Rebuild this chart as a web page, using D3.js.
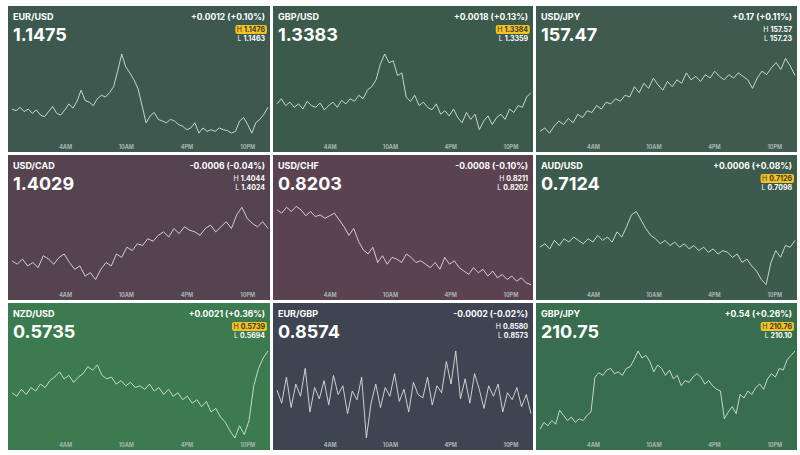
<!DOCTYPE html>
<html><head><meta charset="utf-8">
<script src="https://cdn.jsdelivr.net/npm/d3@7"></script>
<style>
body{margin:0;background:#fff;font-family:Inter,"Open Sans",sans-serif;}
</style></head>
<body><div id="container"></div>
<script>
// pair info
var pairs = ['EUR/USD','GBP/USD','USD/JPY','USD/CAD','USD/CHF','AUD/USD','NZD/USD','EUR/GBP','GBP/JPY'];
var prices = ['1.1475','1.3383','157.47','1.4029','0.8203','0.7124','0.5735','0.8574','210.75'];
var changes = ['+0.0012 (+0.10%)','+0.0018 (+0.13%)','+0.17 (+0.11%)','-0.0006 (-0.04%)','-0.0008 (-0.10%)','+0.0006 (+0.08%)','+0.0021 (+0.36%)','-0.0002 (-0.02%)','+0.54 (+0.26%)'];
var highs = ['1.1476','1.3384','157.57','1.4044','0.8211','0.7126','0.5739','0.8580','210.76'];
var lows = ['1.1463','1.3359','157.23','1.4024','0.8202','0.7098','0.5694','0.8573','210.10'];
var highFlag = [true,true,false,false,false,true,true,false,true];
var colors = ['#3d594f','#3b5a4c','#3f5b50','#55434f','#5b4250','#3d5a4f','#3c7a4f','#3e4452','#386d50'];

// series levels (0 = session low, 100 = session high)
var sEURUSD = [36,34,38,33,36,31,35,29,27,33,39,31,29,35,42,37,45,58,46,44,40,48,52,50,55,62,80,100,85,78,70,60,40,20,28,32,24,22,20,24,22,18,16,12,14,20,8,14,10,12,10,14,12,11,8,10,22,26,18,8,20,24,30,38];
var sGBPUSD = [42,48,40,44,38,42,36,45,40,38,43,35,40,44,38,46,42,48,45,52,48,58,62,70,88,100,90,92,75,78,50,45,52,40,44,38,35,42,30,34,28,36,26,20,32,24,30,12,22,28,18,26,30,24,36,32,40,38,50,55];
var sUSDJPY = [10,14,8,16,22,18,25,20,30,26,34,32,40,36,44,42,48,45,52,50,62,55,66,60,72,64,58,68,62,70,66,78,70,74,68,76,72,80,74,70,76,72,78,74,70,60,72,80,76,84,90,82,95,86,75];
var sUSDCAD = [32,28,34,26,30,24,38,34,28,36,40,30,22,26,14,18,10,22,30,26,40,36,48,44,52,50,58,55,62,66,60,70,64,72,68,66,62,70,74,66,72,78,70,86,95,82,76,72,78,70];
var sUSDCHF = [92,88,95,90,96,92,85,90,84,86,82,85,88,80,72,62,70,55,45,40,48,30,38,28,36,34,30,40,36,30,32,28,24,30,22,36,28,32,24,20,16,24,18,22,14,20,12,16,10,14,8,12,6,4];
var sAUDUSD = [48,52,46,56,50,58,54,60,56,52,58,54,62,56,60,54,66,60,72,86,90,80,70,62,58,52,56,50,54,48,52,46,50,44,48,42,46,40,44,42,36,40,30,34,26,20,10,4,30,44,36,50,48,56];
var sNZDUSD = [52,48,56,50,58,54,62,58,66,70,76,68,72,64,70,74,82,78,84,72,68,70,62,66,60,64,58,60,56,62,54,58,50,56,48,52,44,48,40,44,36,42,30,34,24,18,8,0,14,4,20,60,80,92,100];
var sEURGBP = [55,40,70,35,62,48,80,30,58,45,66,38,72,50,60,28,54,44,70,0,40,62,35,58,48,74,42,56,30,64,50,46,70,38,60,52,88,62,100,45,68,40,74,56,34,60,48,62,30,52,44,58,36,50,28];
var sGBPJPY = [10,18,14,20,16,32,26,20,24,18,22,20,26,30,70,75,72,78,80,74,76,72,80,82,90,100,92,95,88,76,84,80,72,78,68,72,60,66,64,70,74,70,62,66,60,56,54,22,30,36,28,50,46,54,50,58,62,56,68,74,70,80,78,90,95,100];
var series = [sEURUSD,sGBPUSD,sUSDJPY,sUSDCAD,sUSDCHF,sAUDUSD,sNZDUSD,sEURGBP,sGBPJPY];

var tickHours = [4,10,16,22];
var tickLabels = ['4AM','10AM','4PM','10PM'];

var width = 800, height = 455;
var colX = [8,273,536], colW = [262,260,261];
var rowY = [6,155,303], rowH = [146,145,147];

var svg = d3.select('#container').append('svg').attr('width',width).attr('height',height);

pairs.forEach(function(p,i){
  var c = i%3, r = Math.floor(i/3);
  var x0 = colX[c], y0 = rowY[r], w = colW[c], h = rowH[r];
  var g = svg.append('g').attr('transform','translate('+x0+','+y0+')');
  g.append('rect').attr('width',w).attr('height',h).attr('fill',colors[i]);

  g.append('text').attr('x',5).attr('y',14).attr('fill','#fff').attr('font-size',9).attr('font-weight',700).text(p);
  g.append('text').attr('x',5).attr('y',35).attr('fill','#fff').attr('font-size',18).attr('font-weight',700).text(prices[i]);
  g.append('text').attr('x',w-5).attr('y',14).attr('text-anchor','end').attr('fill','#fff').attr('font-size',8.5).attr('font-weight',700).text(changes[i]);

  var ht = g.append('text').attr('x',w-5).attr('y',26).attr('text-anchor','end').attr('font-size',7).attr('font-weight',700).attr('fill','#fff');
  ht.append('tspan').attr('font-weight',400).text('H ');
  ht.append('tspan').text(highs[i]);
  if (highFlag[i]) {
    var bb = ht.node().getBBox();
    g.insert('rect', function(){ return ht.node(); }).attr('x',bb.x-1.5).attr('y',bb.y).attr('width',bb.width+3).attr('height',bb.height).attr('rx',2).attr('fill','#f2c228');
    ht.attr('fill','#3a3a2a');
  }
  var lt = g.append('text').attr('x',w-5).attr('y',35).attr('text-anchor','end').attr('font-size',7).attr('font-weight',700).attr('fill','#fff');
  lt.append('tspan').attr('font-weight',400).text('L ');
  lt.append('tspan').text(lows[i]);

  var data = series[i];
  var x = d3.scaleLinear().domain([-1.3,24]).range([4,w-2]);
  var y = d3.scaleLinear().domain([0,100]).range([h-12,48]);
  var hr = d3.scaleLinear().domain([0,data.length-1]).range([-1.3,24]);
  var line = d3.line().x(function(d,j){ return x(hr(j)); }).y(function(d){ return y(d); });
  g.append('path').datum(data).attr('d',line).attr('fill','none').attr('stroke','#d8e0dc').attr('stroke-width',1).attr('opacity',0.9);

  g.selectAll('.tick').data(tickHours).enter().append('text')
    .attr('x',function(d){ return x(d); }).attr('y',h-3).attr('text-anchor','middle')
    .attr('font-size',5.5).attr('font-weight',700).attr('fill','#a9b4b0')
    .text(function(d,k){ return tickLabels[k]; });
});
</script>
</body></html>
